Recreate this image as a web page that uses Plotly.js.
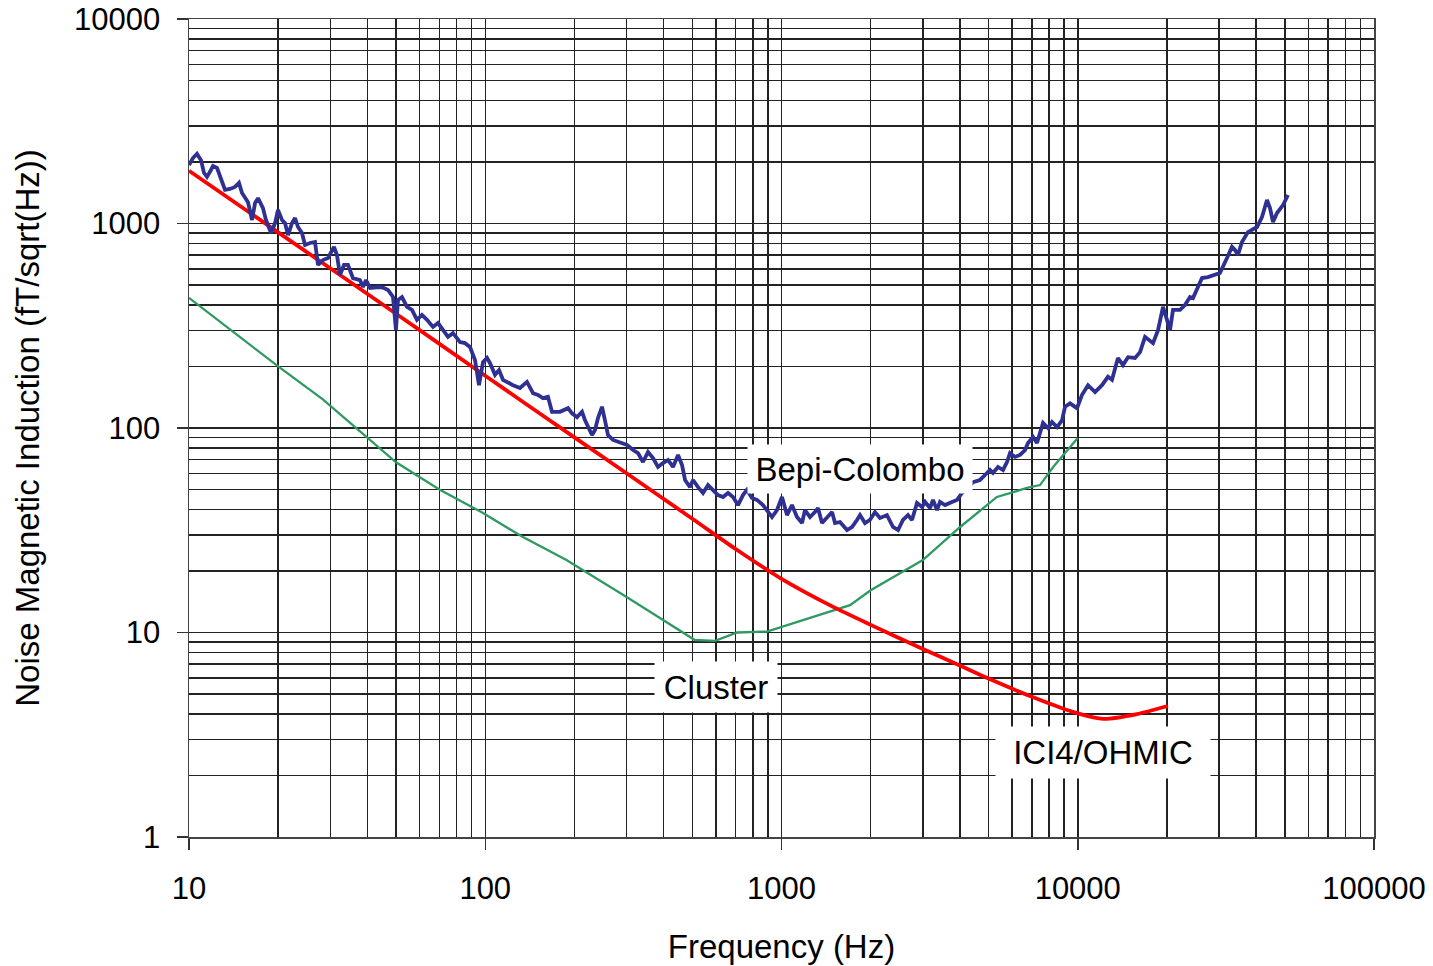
<!DOCTYPE html>
<html>
<head>
<meta charset="utf-8">
<script src="https://cdn.plot.ly/plotly-3.0.1.min.js"></script>
<style>html,body{margin:0;padding:0;background:#fff;}#chart{width:1433px;height:966px;}</style>
</head>
<body>
<div id="chart"></div>
<script>
// Bepi-Colombo measured noise (Hz, fT/sqrt(Hz))
const bepiFreq = [10,10.31,10.64,10.98,11.23,11.5,11.77,12.05,12.43,12.63,12.93,13.23,13.75,14.3,14.75,15.1,15.45,15.82,16.32,16.71,17.1,17.77,18.19,18.92,19.52,19.97,20.6,21.09,21.59,22.27,22.8,23.33,24.07,24.64,25.61,26.63,27.26,28.34,29.46,30.86,31.58,32.33,33.35,34.41,35.77,37.77,38.66,39.57,40.83,42.45,44.13,45.52,46.96,48.83,49.95,50.75,52.36,54.43,56.58,58.83,61.16,63.59,66.62,69.26,72.01,74.86,77.83,82.16,85.42,88.81,92.35,95.26,98.26,101.4,103.7,107.9,111.3,114.8,124.1,131,138.3,141.6,145,150.7,156.6,162.8,168,178.8,190.3,196.3,204.1,212.2,217.2,229.3,234.7,240.2,247.8,253.6,259.6,269.9,285,301,315.3,327.8,340.8,354.3,368.4,382.9,398.1,413.9,430.4,447.5,461.6,472.5,491.2,502.7,522.7,543.4,564.9,587.3,610.5,634.7,659.8,686,713.2,741.3,764.7,795.1,826.5,865.9,928.7,965.6,1004,1044,1085,1128,1173,1200,1248,1297,1328,1370,1424,1481,1516,1576,1664,1730,1798,1841,1913,1989,2068,2150,2270,2379,2474,2571,2673,2757,2867,2981,3051,3172,3246,3349,3428,3564,3763,3913,4068,4262,4431,4677,4863,5055,5174,5380,5594,5770,5906,6140,6384,6637,6793,7063,7286,7458,7634,7937,8187,8511,8848,9058,9415,9942,10330,10830,11440,12070,12650,13050,13670,14210,14780,15610,16230,16870,17540,17950,18660,19400,20010,20480,20970,22140,23010,23930,24490,25260,26270,27510,30200,31900,33160,33940,34740,35840,37550,40270,41870,43530,44560,45610,47050,49300,51250];
const bepiNoise = [1930,2090,2190,2040,1770,1690,1790,1910,1870,1770,1600,1460,1475,1510,1580,1410,1350,1270,1040,1260,1330,1190,1040,898,1005,1164,1040,1005,878,1005,1064,961,898,785,803,812,627,663,678,768,701,560,627,627,541,529,489,529,484,489,489,484,473,437,301,423,437,391,378,338,357,338,312,326,301,279,291,263,260,249,215,162,210,220,208,182,192,172,162,157,168,159,148,145,140,142,120,120,125,118,113,120,109,92.4,97.8,112,127,109,92.4,87.4,84.5,82.6,78,75.4,68.2,76.3,71.3,64.5,67.4,69.8,64.5,73.8,65.9,55.7,51.4,55.7,51.4,48.1,52.6,49.8,47,46,48.1,46,42,47,49.8,45.5,44.5,42,36.7,39.7,46,37.5,42,36.7,34.3,39.7,36.7,38.8,40.6,34.3,36.7,38.8,34.3,34.7,31.7,32.8,35.5,37.5,34.3,35.5,38.8,36.3,37.5,32.8,31.7,35.5,37.5,35.5,43,41.1,43.5,40.6,44.5,39.7,43.5,42,43.5,44.5,48.1,50.9,54.4,55.7,58.9,62.3,60.3,64.5,62.3,68.2,75.4,72.2,73.8,78,84.5,90.4,84.5,94.5,106,100,107,101,109,127,132,125,145,162,150,162,178,172,220,203,222,220,235,279,269,260,301,391,338,301,378,378,399,437,432,473,541,547,573,678,768,742,701,812,908,961,1076,1303,1190,1017,1125,1231,1378];

// ICI4/OHMIC
const iciFreq = [10,20,50,100,200,500,700,1000,1500,2000,3000,4000,5000,7000,10000,12200,15850,20160];
const iciNoise = [1810,905,362,180,90,36,25.6,18.3,13.3,10.9,8.3,6.9,5.95,4.85,4.02,3.78,3.99,4.37];

// Cluster
const clusterFreq = [10,20,28.3,50,70,97,134,188,300,510,597,708,893,1703,2000,3000,4009,5334,6745,7460,8260,10000];
const clusterNoise = [433,200,138,68,50,38.8,29.3,22.6,14.9,9.19,9.1,10.0,10.1,13.6,16.1,22.6,32.8,46,50.9,52.6,64.4,89.3];

// Axis ticks
const xMajor = [10,100,1000,10000,100000];
const xMajorText = ['10','100','1000','10000','100000'];
const yMajor = [1,10,100,1000,10000];
const yMajorText = ['1','10','100','1000','10000'];
const digits = [2,3,4,5,6,7,8,9];
const xDecades = [10,100,1000,10000];
const yDecades = [1,10,100,1000];

const labelNames = ['Bepi-Colombo','Cluster','ICI4/OHMIC'];
const yTitle = 'Noise Magnetic Induction (fT/sqrt(Hz))';

function minorVals(decades){const out=[];decades.forEach(d=>digits.forEach(k=>out.push(d*k)));return out;}

const FONT = 'Liberation Sans, Arial, Helvetica, sans-serif';
const GRID = '#222222';

const traces = [
  {x: clusterFreq, y: clusterNoise, mode:'lines', name:'Cluster', line:{color:'#2e9a62', width:2.3}},
  {x: iciFreq, y: iciNoise, mode:'lines', name:'ICI4/OHMIC', line:{color:'#ff0000', width:3.8, shape:'spline', smoothing:0.6}},
  {x: bepiFreq, y: bepiNoise, mode:'lines', name:'Bepi-Colombo', line:{color:'#2e3192', width:3.8}}
];

function label(text, x, y, w, h){
  return {xref:'paper', yref:'paper', x:x, y:y, xanchor:'center', yanchor:'middle',
    text:text, showarrow:false, bgcolor:'#ffffff', borderpad:4, width:w, height:h,
    align:'center', valign:'middle', font:{size:33, family:FONT, color:'#000'}};
}

const layout = {
  width:1433, height:966,
  margin:{l:189, r:59, t:19, b:129},
  paper_bgcolor:'#fff', plot_bgcolor:'#fff',
  showlegend:false,
  font:{family:FONT, color:'#000', size:31},
  xaxis:{
    type:'log', range:[1,5],
    tickmode:'array', tickvals:xMajor, ticktext:xMajorText,
    ticks:'outside', ticklen:11, tickcolor:'#333', tickwidth:1.5,
    ticklabelstandoff:12,
    showgrid:true, gridcolor:GRID, gridwidth:1.5,
    minor:{tickmode:'array', tickvals:minorVals(xDecades), showgrid:true, gridcolor:GRID, gridwidth:1.5, ticks:''},
    showline:true, linecolor:'#444', linewidth:1.5, mirror:true,
    zeroline:false,
    tickfont:{size:31, family:FONT},
    title:{text:'Frequency (Hz)', font:{size:33, family:FONT}, standoff:30}
  },
  yaxis:{
    type:'log', range:[0,4],
    tickmode:'array', tickvals:yMajor, ticktext:yMajorText,
    ticks:'outside', ticklen:11, tickcolor:'#333', tickwidth:1.5,
    ticklabelstandoff:10,
    showgrid:true, gridcolor:GRID, gridwidth:1.5,
    minor:{tickmode:'array', tickvals:minorVals(yDecades), showgrid:true, gridcolor:GRID, gridwidth:1.5, ticks:''},
    showline:true, linecolor:'#444', linewidth:1.5, mirror:true,
    zeroline:false,
    tickfont:{size:31, family:FONT},
    title:{text:yTitle, font:{size:33, family:FONT}, standoff:24}
  },
  annotations:[
    label(labelNames[0], 0.5662, 0.4499, 216, 40),
    label(labelNames[1], 0.4447, 0.1834, 114, 42),
    label(labelNames[2], 0.7713, 0.1039, 206, 43)
  ]
};

Plotly.newPlot('chart', traces, layout, {displayModeBar:false, staticPlot:true});
</script>
</body>
</html>
